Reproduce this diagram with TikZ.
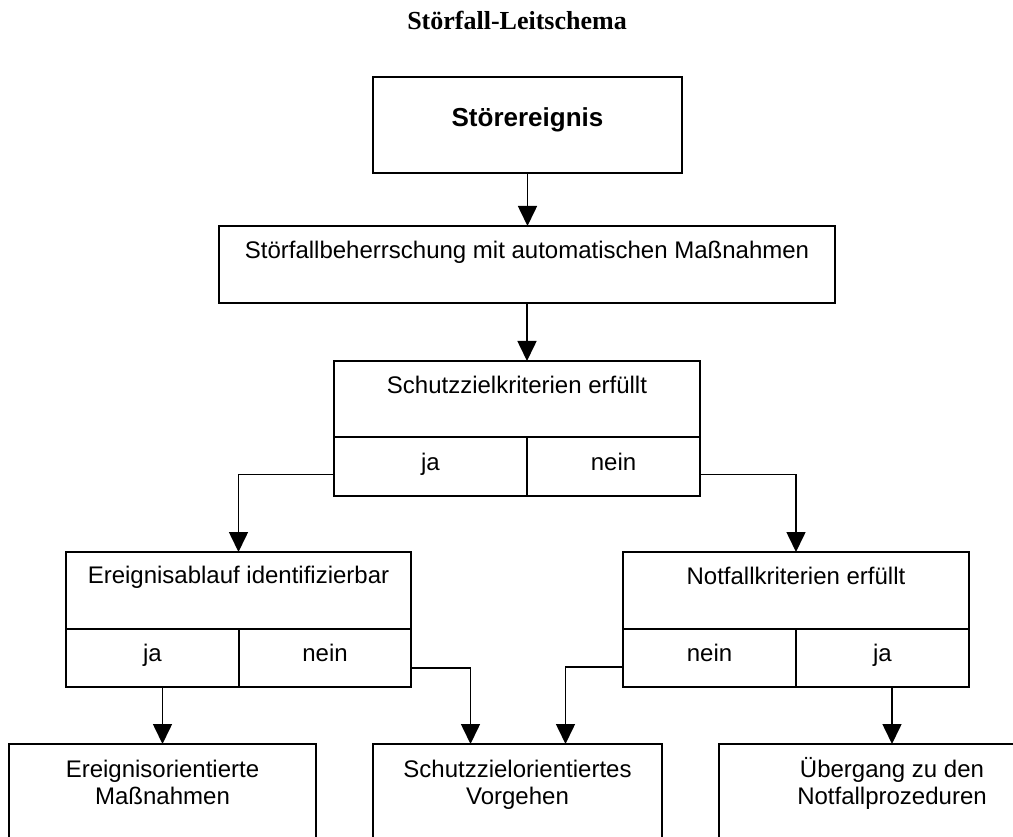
\documentclass[tikz,border=0pt]{standalone}
\usepackage{fontspec}
\setmainfont{Liberation Sans}
\newfontfamily\titelfont{Liberation Serif}
\usetikzlibrary{arrows.meta,positioning,calc}
\tikzset{
	box/.style={draw, line width=2.4pt, inner sep=0pt, outer sep=0pt, anchor=north west},
	txt/.style={anchor=base, inner sep=0pt, align=center, font=\fontsize{24}{27}\selectfont},
	conn/.style={line width=1.6pt, -{Triangle[length=20pt,width=19pt]}},
}
\begin{document}
\begin{tikzpicture}[x=1pt,y=-1pt]
			\useasboundingbox (0,0) rectangle (1013,837);
			\clip (0,0) rectangle (1013,837);
			\node[anchor=base, inner sep=0pt, font=\titelfont\bfseries\fontsize{26}{30}\selectfont] (titel) at (517,30) {Störfall-Leitschema};
			\node[box, minimum width=309pt, minimum height=96pt,
				label={[txt, yshift=-50pt, font=\bfseries\fontsize{26}{30}\selectfont]north:Störereignis}] (stoer) at (373,77) {};
			\node[box, minimum width=616pt, minimum height=77pt,
				label={[txt, yshift=-33pt]north:Störfallbeherrschung mit automatischen Maßnahmen}] (beherr) at (219,226) {};
			% Schutzziel
			\node[box, minimum width=366pt, minimum height=76pt,
				label={[txt, yshift=-32pt]north:Schutzzielkriterien erfüllt}] (szk) at (334,361) {};
			\node[box, minimum width=193pt, minimum height=59pt,
				label={[txt, yshift=-33pt]north:ja}] (szkja) at (szk.south west) {};
			\node[box, minimum width=173pt, minimum height=59pt,
				label={[txt, yshift=-33pt]north:nein}] (szknein) at (szkja.north east) {};
			% Ereignisablauf
			\node[box, minimum width=345pt, minimum height=77pt,
				label={[txt, yshift=-31pt]north:Ereignisablauf identifizierbar}] (ereig) at (66,552) {};
			\node[box, minimum width=173pt, minimum height=58pt,
				label={[txt, yshift=-32pt]north:ja}] (ereigja) at (ereig.south west) {};
			\node[box, minimum width=172pt, minimum height=58pt,
				label={[txt, yshift=-32pt]north:nein}] (ereignein) at (ereigja.north east) {};
			% Notfall
			\node[box, minimum width=346pt, minimum height=77pt,
				label={[txt, yshift=-32pt]north:Notfallkriterien erfüllt}] (notf) at (623,552) {};
			\node[box, minimum width=173pt, minimum height=58pt,
				label={[txt, yshift=-32pt]north:nein}] (notfnein) at (notf.south west) {};
			\node[box, minimum width=173pt, minimum height=58pt,
				label={[txt, yshift=-32pt]north:ja}] (notfja) at (notfnein.north east) {};
			% Ergebnisse
			\node[box, minimum width=307pt, minimum height=135pt,
				label={[txt, yshift=-60pt]north:Ereignisorientierte\\Maßnahmen}] (mass) at (9,744) {};
			\node[box, minimum width=289pt, minimum height=135pt,
				label={[txt, yshift=-60pt]north:Schutzzielorientiertes\\Vorgehen}] (vorg) at (373,744) {};
			\node[box, minimum width=346pt, minimum height=135pt,
				label={[txt, yshift=-60pt]north:Übergang zu den\\Notfallprozeduren}] (ueberg) at (719,744) {};

			\draw[conn] (stoer.south) -- (stoer.south |- beherr.north);
			\draw[conn] (beherr.south) -- (beherr.south |- szk.north);
			\draw[conn] ($(szkja.west)+(0,8)$) -| (ereig.north);
			\draw[conn] ($(szknein.east)+(0,8)$) -| (notf.north);
			\draw[conn] (mass.north |- ereigja.south) -- (mass.north);
			\draw[conn] ($(ereignein.east)+(0,10)$) -| ($(vorg.north)+(-47,0)$);
			\draw[conn] ($(notfnein.west)+(0,9)$) -| ($(vorg.north)+(48,0)$);
			\draw[conn] (ueberg.north |- notfja.south) -- (ueberg.north);
		\end{tikzpicture}
\end{document}
